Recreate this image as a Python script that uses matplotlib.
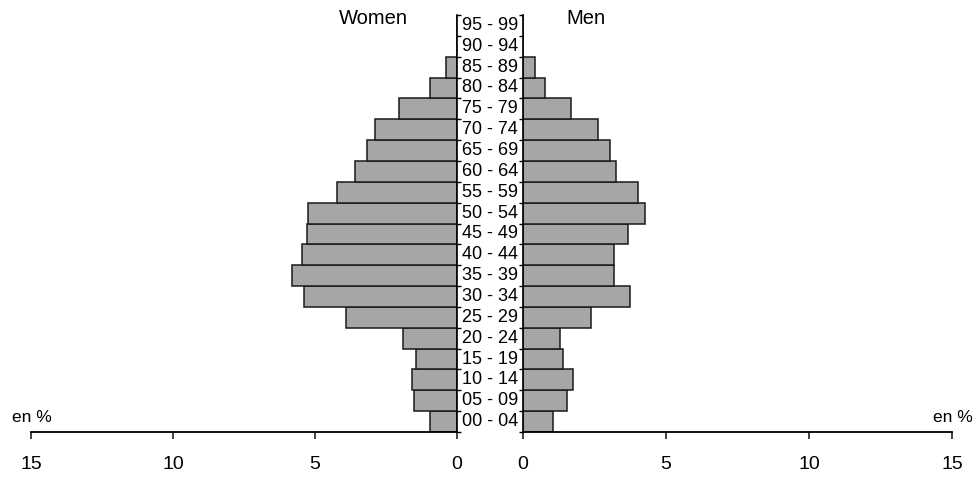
import numpy as np
import matplotlib.pyplot as plt
from matplotlib.transforms import blended_transform_factory

plt.rcParams['font.family'] = ['Liberation Sans', 'DejaVu Sans']

# Data (percent of population by age group)
age_groups = ['00 - 04', '05 - 09', '10 - 14', '15 - 19', '20 - 24', '25 - 29',
              '30 - 34', '35 - 39', '40 - 44', '45 - 49', '50 - 54', '55 - 59',
              '60 - 64', '65 - 69', '70 - 74', '75 - 79', '80 - 84', '85 - 89',
              '90 - 94', '95 - 99']
women = [0.95, 1.51, 1.58, 1.44, 1.90, 3.91, 5.39, 5.81, 5.46, 5.28, 5.25, 4.23,
         3.59, 3.17, 2.89, 2.04, 0.95, 0.39, 0.0, 0.0]
men = [1.05, 1.54, 1.75, 1.40, 1.29, 2.38, 3.74, 3.18, 3.18, 3.67, 4.27, 4.02,
       3.25, 3.04, 2.62, 1.68, 0.77, 0.42, 0.0, 0.0]
x_ticks = [0, 5, 10, 15]

W, H = 978, 479
fig = plt.figure(figsize=(W / 100, H / 100), dpi=100)

bot = (H - 432) / H
hgt = (432 - 15) / H
ax_w = fig.add_axes([31 / W, bot, 426 / W, hgt])
ax_m = fig.add_axes([523 / W, bot, 429 / W, hgt])

y = np.arange(len(age_groups)) + 0.5
bar_kw = dict(height=1.0, color='#a6a6a6', edgecolor='#1a1a1a', linewidth=1.1)
ax_w.barh(y, women, **bar_kw)
ax_m.barh(y, men, **bar_kw)

ax_w.set_xlim(15, 0)
ax_m.set_xlim(0, 15)
for ax in (ax_w, ax_m):
    ax.set_ylim(0, len(age_groups))
    ax.set_xticks(x_ticks)
    ax.set_xticklabels([str(t) for t in x_ticks])
    ax.tick_params(axis='x', direction='out', length=5, width=1.2, pad=12,
                   labelsize=14, color='#222222')
    ax.spines['top'].set_visible(False)
    ax.spines['bottom'].set_linewidth(1.3)
    ax.set_yticks(np.arange(len(age_groups) + 1))
    ax.set_yticklabels([])

ax_w.spines['left'].set_visible(False)
ax_w.yaxis.tick_right()
ax_w.tick_params(axis='y', direction='out', length=3, width=1.0)
ax_w.spines['right'].set_linewidth(1.2)

ax_m.spines['right'].set_visible(False)
ax_m.tick_params(axis='y', direction='out', length=3, width=1.0)
ax_m.spines['left'].set_linewidth(1.2)

# age group labels in the gap between the two halves
tr = blended_transform_factory(fig.transFigure, ax_w.transData)
for yy, lab in zip(y, age_groups):
    ax_w.text(490 / W, yy, lab, transform=tr, ha='center', va='center',
              fontsize=13, clip_on=False)

fig.text(373 / W, 1 - 18 / H, 'Women', ha='center', va='center', fontsize=14.5)
fig.text(586 / W, 1 - 18 / H, 'Men', ha='center', va='center', fontsize=14.5)
fig.text(12 / W, 1 - 418 / H, 'en %', ha='left', va='center', fontsize=12.5)
fig.text(973 / W, 1 - 418 / H, 'en %', ha='right', va='center', fontsize=12.5)

fig.savefig('out.png', dpi=100)
